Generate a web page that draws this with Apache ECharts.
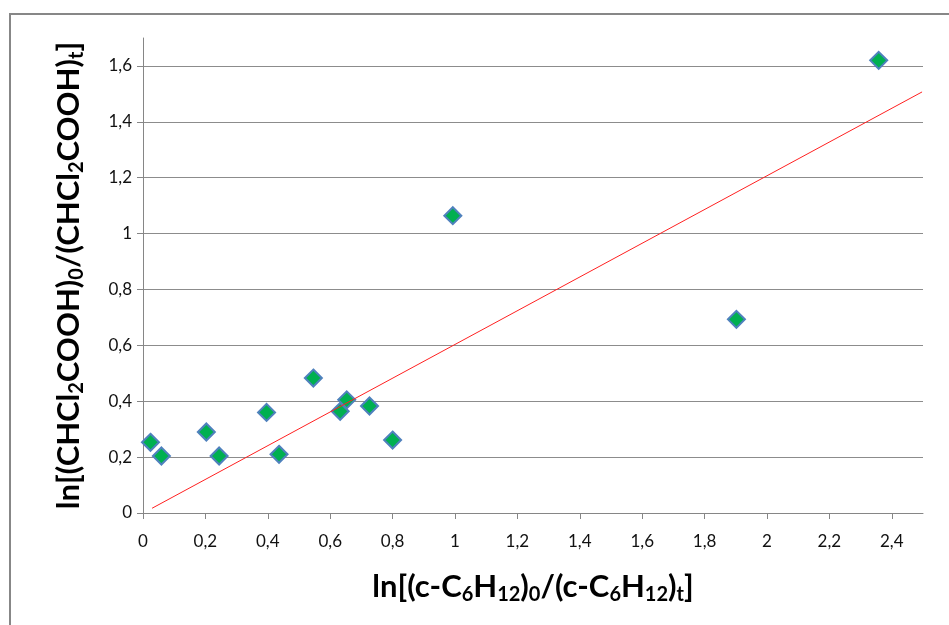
<!DOCTYPE html>
<html>
<head>
<meta charset="utf-8">
<script src="https://cdn.jsdelivr.net/npm/echarts@6/dist/echarts.min.js"></script>
<style>
  html, body { margin: 0; padding: 0; background: #fff; }
  #chart { width: 949px; height: 625px; }
</style>
</head>
<body>
<div id="chart"></div>
<script>
// measured points: ln ratio of cyclohexane (x) vs ln ratio of dichloroacetic acid (y)
const xValues = [0.024, 0.059, 0.203, 0.244, 0.396, 0.436, 0.546, 0.632, 0.653, 0.726, 0.800, 0.993, 1.902, 2.358];
const yValues = [0.253, 0.204, 0.290, 0.204, 0.360, 0.210, 0.483, 0.364, 0.405, 0.383, 0.261, 1.064, 0.693, 1.620];

// linear trend line end points
const trendX = [0.029, 2.497];
const trendY = [0.017, 1.507];

const xAxisMin = 0, xAxisMax = 2.5, xStep = 0.2;
const yAxisMin = 0, yAxisMax = 1.7, yStep = 0.2;

const fmt = v => String(+v.toFixed(1)).replace('.', ',');

const points = xValues.map((x, i) => [x, yValues[i]]);
const trend = trendX.map((x, i) => [x, trendY[i]]);

const subStyle = { fontSize: 20, fontWeight: 'bold', fontFamily: 'Lato', color: '#000', padding: [16, 0, 0, 0] };
const mainStyle = { fontSize: 31, fontWeight: 'bold', fontFamily: 'Lato', color: '#000' };

const chart = echarts.init(document.getElementById('chart'));
chart.setOption({
  animation: false,
  grid: { left: 143, top: 38, right: 26, bottom: 112 },
  graphic: [
    { type: 'polyline', shape: { points: [[10, 625], [10, 14], [949, 14]] },
      style: { stroke: '#878787', lineWidth: 2, fill: null } }
  ],
  xAxis: {
    type: 'value', min: xAxisMin, max: xAxisMax, interval: xStep,
    axisLine: { lineStyle: { color: '#868686', width: 1 } },
    axisTick: { length: 6, lineStyle: { color: '#868686' } },
    splitLine: { show: false },
    axisLabel: { showMaxLabel: false, formatter: fmt, fontFamily: 'Lato', fontSize: 17, color: '#111', margin: 20 },
    name: '{m|ln[(c-C}{s|6}{m|H}{s|12}{m|)}{s|0}{m|/(c-C}{s|6}{m|H}{s|12}{m|)}{s|t}{m|]}',
    nameLocation: 'middle', nameGap: 56,
    nameTextStyle: { rich: { m: mainStyle, s: subStyle } }
  },
  yAxis: {
    type: 'value', min: yAxisMin, max: yAxisMax, interval: yStep,
    axisLine: { show: true, lineStyle: { color: '#868686', width: 1 } },
    axisTick: { show: true, length: 6, lineStyle: { color: '#868686' } },
    splitLine: { show: true, showMaxLine: false, lineStyle: { color: '#8c8c8c', width: 1 } },
    axisLabel: { showMaxLabel: false, formatter: fmt, fontFamily: 'Lato', fontSize: 17, color: '#111', margin: 11 },
    name: '{m|ln[(CHCl}{s|2}{m|COOH)}{s|0}{m|/(CHCl}{s|2}{m|COOH)}{s|t}{m|]}',
    nameLocation: 'middle', nameGap: 56, nameRotate: 90,
    nameTextStyle: { rich: { m: mainStyle, s: subStyle } }
  },
  series: [
    {
      type: 'scatter', data: points, symbol: 'diamond', symbolSize: 17,
      itemStyle: { color: '#00b050', borderColor: '#4f81bd', borderWidth: 2, opacity: 1 }
    },
    {
      type: 'line', data: trend, symbol: 'none',
      lineStyle: { color: '#ff2020', width: 1 }
    }
  ]
});
</script>
</body>
</html>
